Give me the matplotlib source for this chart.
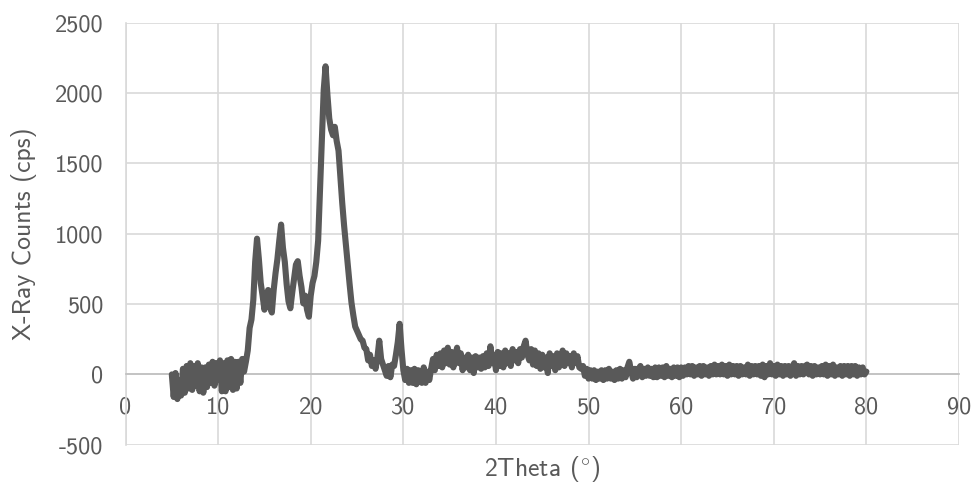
import numpy as np
import matplotlib
matplotlib.use("Agg")
import matplotlib.pyplot as plt

# Diffractogram: counts recorded every 0.2 degrees from 5 to 80 degrees 2-theta
scan_start = 5.0
scan_step = 0.2
counts = [
    # 5 - 9
    0, -160, 10, -175, -40,
    -150, 40, -130, 60, -100,
    80, -110, 60, -80, 80,
    -120, 50, -130, 50, -90,
    70, -60, 90, -80, 80,
    # 10 - 14
    -40, 100, -120, 80, -120,
    100, -90, 110, -110, 90,
    -100, 90, -60, 110, 20,
    90, 170, 330, 390, 530,
    800, 965, 820, 650, 560,
    # 15 - 19
    460, 540, 600, 480, 440,
    600, 720, 820, 950, 1065,
    900, 800, 640, 520, 470,
    580, 680, 780, 805, 700,
    620, 505, 560, 460, 410,
    # 20 - 24
    560, 650, 700, 800, 950,
    1300, 1650, 2020, 2190, 1990,
    1820, 1740, 1700, 1760, 1660,
    1590, 1400, 1220, 1060, 920,
    780, 640, 510, 420, 340,
    # 25 - 29
    310, 280, 250, 240, 190,
    180, 100, 140, 60, 100,
    40, 120, 240, 110, 70,
    30, -10, 60, -20, 70,
    60, 140, 230, 360, 180,
    # 30 - 34
    30, -40, 40, -60, 30,
    -60, 40, -70, 30, -50,
    -60, 50, -60, 20, -40,
    40, 110, 30, 140, 60,
    150, 50, 170, 80, 190,
    # 35 - 39
    70, 160, 50, 130, 190,
    80, 150, 30, 120, 50,
    140, 30, 120, 10, 130,
    50, 120, 40, 130, 50,
    150, 60, 200, 80, 140,
    # 40 - 44
    30, 160, 60, 150, 50,
    170, 80, 150, 60, 180,
    100, 160, 80, 180, 120,
    200, 240, 140, 100, 180,
    70, 170, 60, 150, 40,
    # 45 - 49
    140, 50, 120, 10, 150,
    60, 130, 30, 150, 50,
    110, 170, 60, 150, 80,
    130, 50, 150, 80, 130,
    50, 40, 60, -10, 40,
    # 50 - 54
    -30, 30, -30, 30, -40,
    20, -30, 30, -40, 30,
    -30, 40, -30, 20, -40,
    30, -30, 40, -30, 30,
    -20, 50, 90, 20, -30,
    # 55 - 59
    40, -20, 40, 60, -20,
    40, -10, 50, -10, 40,
    -20, 50, -20, 50, -10,
    50, -20, 60, -10, 40,
    -20, 50, -10, 50, -20,
    # 60 - 64
    50, -10, 50, 0, 60,
    0, 60, -10, 50, 0,
    60, -10, 60, 0, 50,
    -10, 60, 0, 70, 0,
    60, 0, 70, 0, 60,
    # 65 - 69
    -10, 70, 0, 60, 0,
    60, -10, 60, 0, 50,
    0, 70, -10, 60, 0,
    60, 0, 60, -10, 70,
    -20, 60, 0, 80, 0,
    # 70 - 74
    60, -10, 70, 0, 60,
    -10, 60, 0, 60, -10,
    50, 80, -10, 60, 0,
    60, 0, 60, 70, 0,
    60, -10, 60, 0, 50,
    # 75 - 80
    0, 60, 0, 70, -10,
    60, 0, 70, -10, 50,
    0, 60, -10, 60, 0,
    60, -10, 60, 0, 60,
    -10, 50, 0, 50, 0,
    20,
]
two_theta = np.round(scan_start + scan_step * np.arange(len(counts)), 2)

x_ticks = [0, 10, 20, 30, 40, 50, 60, 70, 80, 90]
y_ticks = [-500, 0, 500, 1000, 1500, 2000, 2500]

plt.rcParams["font.family"] = ["cmss10", "DejaVu Sans"]
plt.rcParams["mathtext.fontset"] = "cm"
plt.rcParams["axes.unicode_minus"] = False

text_grey = "#595959"
grid_grey = "#d9d9d9"

fig = plt.figure(figsize=(9.73, 4.87), dpi=100)
ax = fig.add_axes([0.129, 0.0867, 0.8566, 0.8667])

ax.plot(two_theta, counts, color="#595959", linewidth=4.4,
        solid_joinstyle="round", solid_capstyle="round", zorder=3)

ax.set_xlim(0, 90)
ax.set_ylim(-500, 2500)
ax.set_xticks(x_ticks)
ax.set_yticks(y_ticks)
ax.grid(True, color=grid_grey, linewidth=1.2, zorder=0)
ax.set_axisbelow(True)

for side in ("top", "right"):
    ax.spines[side].set_visible(False)
ax.spines["left"].set_color(grid_grey)
ax.spines["left"].set_linewidth(1.2)
# horizontal axis crosses at zero counts
ax.spines["bottom"].set_position(("data", 0))
ax.spines["bottom"].set_color("#bfbfbf")
ax.spines["bottom"].set_linewidth(1.2)

ax.tick_params(axis="both", length=0, colors=text_grey, labelsize=17.5)
ax.tick_params(axis="x", pad=16)
ax.tick_params(axis="y", pad=16)

ax.set_xlabel(r"2Theta ($^{\circ}$)", fontsize=18.5, color=text_grey)
ax.xaxis.set_label_coords(0.5, -0.022)
ax.set_ylabel("X-Ray Counts (cps)", fontsize=18.5, color=text_grey)
ax.yaxis.set_label_coords(-0.106, 0.5)

fig.savefig("out.png", dpi=100)
